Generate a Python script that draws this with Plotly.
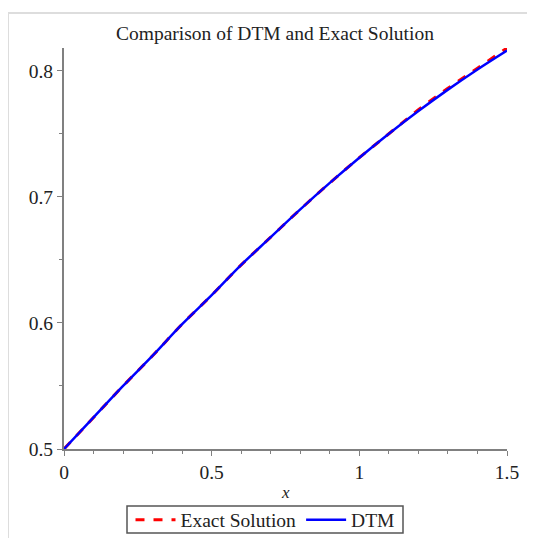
import plotly.graph_objects as go

x_vals = [0.0, 0.1, 0.2, 0.3, 0.4, 0.5, 0.6, 0.7, 0.8, 0.9, 1.0, 1.1, 1.2, 1.3, 1.4, 1.5]
exact_vals = [0.500, 0.525, 0.550, 0.574, 0.599, 0.622, 0.646, 0.668, 0.690, 0.711,
              0.731, 0.750, 0.769, 0.786, 0.802, 0.818]
dtm_vals = [0.500, 0.525, 0.550, 0.574, 0.599, 0.622, 0.646, 0.668, 0.690, 0.711,
            0.731, 0.750, 0.768, 0.785, 0.801, 0.816]

# page has an 8px body margin, so the figure starts at (8, 8)
OFF = 8
W, H = 535 - OFF, 538 - OFF
L, R, T, B = 64 - OFF, 535 - 507, 48 - OFF, 538 - 449
pw, ph = W - L - R, H - T - B

def px(xp):
    return (xp - OFF - L) / pw

def py(yp):
    return (H - B - (yp - OFF)) / ph

FONT = "Liberation Serif"
FS = 19.5
TXT = "#222222"

fig = go.Figure()
fig.add_trace(go.Scatter(x=x_vals, y=exact_vals, mode="lines", name="Exact Solution",
                         line=dict(color="#ff0000", width=3, dash="dash", shape="spline")))
fig.add_trace(go.Scatter(x=x_vals, y=dtm_vals, mode="lines", name="DTM",
                         line=dict(color="#0000ff", width=2.5, shape="spline")))

fig.update_layout(
    width=W, height=H,
    margin=dict(l=L, r=R, t=T, b=B, autoexpand=False),
    paper_bgcolor="white", plot_bgcolor="white",
    font=dict(family=FONT, size=FS, color=TXT),
    title=dict(text="Comparison of DTM and Exact Solution", xref="container", yref="container",
               x=(275 - OFF) / W, xanchor="center", y=1 - (33 - OFF) / H, yanchor="middle",
               font=dict(family=FONT, size=FS, color=TXT)),
    showlegend=True,
    legend=dict(orientation="h", xref="container", yref="container",
                x=(265 - OFF) / W, xanchor="center", y=1 - (520 - OFF) / H, yanchor="middle",
                borderwidth=0, bgcolor="rgba(0,0,0,0)",
                font=dict(family=FONT, size=FS, color=TXT),
                itemwidth=40, tracegroupgap=0),
    shapes=[
        dict(type="line", xref="paper", yref="paper", x0=px(8), x1=px(545), y0=py(13), y1=py(13),
             line=dict(color="#dddddd", width=2)),
        dict(type="line", xref="paper", yref="paper", x0=px(8), x1=px(8), y0=py(13), y1=py(548),
             line=dict(color="#dddddd", width=2)),
        dict(type="rect", xref="paper", yref="paper", x0=px(127), x1=px(403), y0=py(533), y1=py(506),
             line=dict(color="#555555", width=1.5), fillcolor="rgba(0,0,0,0)"),
    ],
    annotations=[
        dict(text="<i>x</i>", xref="paper", yref="paper", x=px(285), y=py(492),
             xanchor="center", yanchor="middle", showarrow=False,
             font=dict(family=FONT, size=17, color=TXT)),
    ],
)

fig.update_xaxes(range=[0, 1.5], tickvals=[0, 0.5, 1, 1.5], ticktext=["0", "0.5", "1", "1.5"],
                 showline=True, linecolor="#808080", linewidth=2, ticks="outside", ticklen=5,
                 tickcolor="#808080", tickwidth=1, showgrid=False, zeroline=False, automargin=False,
                 minor=dict(dtick=0.1, tick0=0, ticks="outside", ticklen=3, tickcolor="#808080", showgrid=False),
                 tickfont=dict(family=FONT, size=FS, color=TXT))
fig.update_yaxes(range=[0.5, 0.818], tickvals=[0.5, 0.6, 0.7, 0.8], ticktext=["0.5", "0.6", "0.7", "0.8"],
                 showline=True, linecolor="#808080", linewidth=2, ticks="outside", ticklen=5,
                 tickcolor="#808080", tickwidth=1, showgrid=False, zeroline=False, automargin=False,
                 minor=dict(dtick=0.05, tick0=0.5, ticks="outside", ticklen=3, tickcolor="#808080", showgrid=False),
                 tickfont=dict(family=FONT, size=FS, color=TXT))

fig.write_html("out.html")
